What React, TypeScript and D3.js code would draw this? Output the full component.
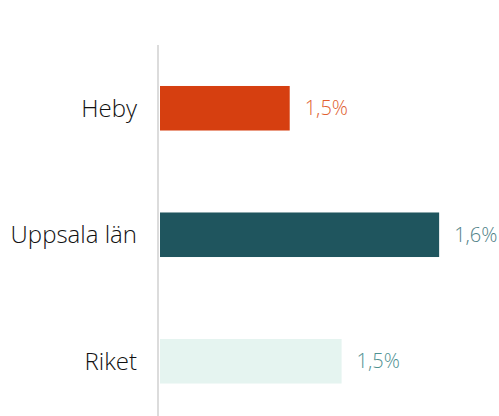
import React from "react";
import * as d3 from "d3";

const categories = ["Heby", "Uppsala län", "Riket"];
const values = [1.48, 1.624, 1.53];
const barColors = ["#d63f10", "#1f555e", "#e5f4f0"];
const labelColors = ["#e0602f", "#4f8187", "#4f9192"];

const W = 499;
const H = 416;

export default function App() {
  const y = d3
    .scaleBand<string>()
    .domain(categories)
    .range([45, 424.5])
    .paddingInner(0.648)
    .paddingOuter(0.324);
  const x = d3.scaleLinear().domain([1.355, 1.7]).range([160, 518]);
  const fmt = (v: number) => d3.format(".1f")(v).replace(".", ",") + "%";
  const font = "'Open Sans', sans-serif";

  return (
    <svg
      width={W}
      height={H}
      style={{ position: "absolute", left: 0, top: 0, background: "#fff" }}
    >
      <line x1={158} x2={158} y1={45} y2={H} stroke="#dcdcdc" strokeWidth={2} />
      {categories.map((c, i) => {
        const yy = y(c)!;
        const bw = y.bandwidth();
        const cy = yy + bw / 2;
        return (
          <g key={c}>
            <rect
              x={x(x.domain()[0])}
              y={yy}
              width={x(values[i]) - x(x.domain()[0])}
              height={bw}
              fill={barColors[i]}
            />
            <text
              x={137}
              y={cy}
              dy="0.36em"
              textAnchor="end"
              fontFamily={font}
              fontWeight={300}
              fontSize={24}
              fill="#111"
            >
              {c}
            </text>
            <text
              x={x(values[i]) + 15}
              y={cy}
              dy="0.36em"
              textAnchor="start"
              fontFamily={font}
              fontWeight={300}
              fontSize={20}
              fill={labelColors[i]}
            >
              {fmt(values[i])}
            </text>
          </g>
        );
      })}
    </svg>
  );
}
